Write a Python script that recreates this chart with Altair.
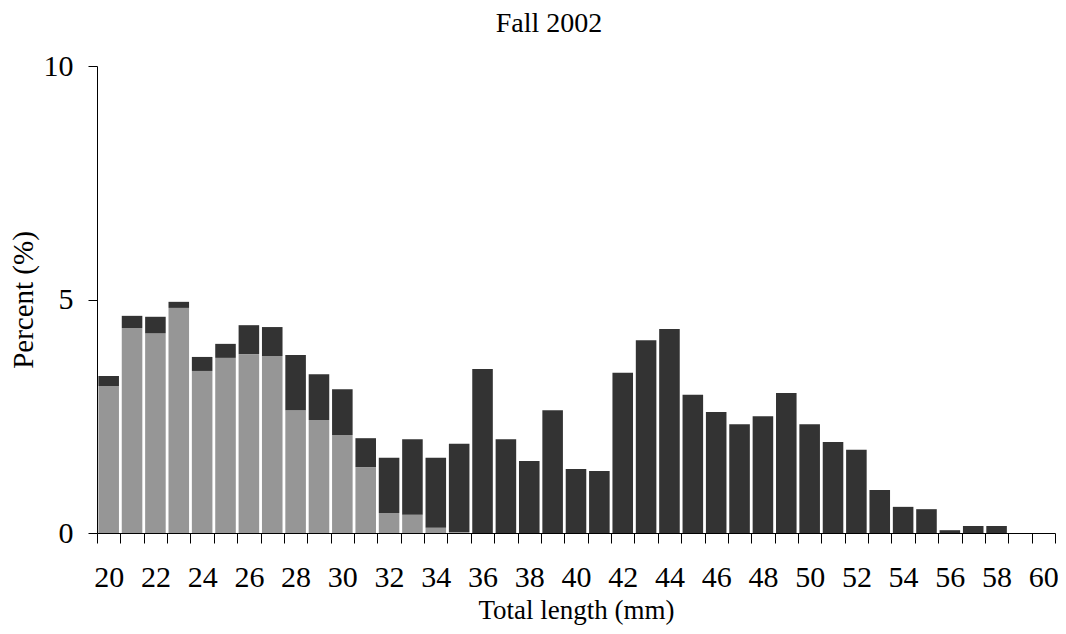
import altair as alt
import pandas as pd

# Total length classes (mm)
lengths = list(range(20, 61))
# light-gray portion (%)
light = [3.15, 4.39, 4.28, 4.82, 3.47, 3.75, 3.83, 3.79, 2.63, 2.42, 2.10, 1.41,
         0.43, 0.39, 0.11, 0.02] + [0.0] * 25
# total bar height (%)
total = [3.36, 4.65, 4.63, 4.95, 3.77, 4.05, 4.45, 4.41, 3.81, 3.40, 3.08, 2.03,
         1.61, 2.01, 1.61, 1.91, 3.51, 2.01, 1.54, 2.63, 1.37, 1.33, 3.43, 4.13,
         4.37, 2.96, 2.59, 2.33, 2.50, 3.00, 2.33, 1.95, 1.78, 0.92, 0.56, 0.51,
         0.06, 0.15, 0.15, 0.0, 0.0]
# axis tick positions: class boundaries and integer label positions
x_axis_values = [19.5 + i * 0.5 for i in range(83)]
y_ticks = [0, 5, 10]

df = pd.DataFrame({"length": lengths, "light": light, "total": total})

FONT = "Liberation Serif"
base = alt.Chart(df).transform_calculate(
    lo="datum.length - 0.44", hi="datum.length + 0.44", zero="0"
)

xscale = alt.Scale(domain=[19.5, 60.5], nice=False, zero=False)
yscale = alt.Scale(domain=[0, 10], nice=False)

xaxis = alt.Axis(
    values=x_axis_values,
    tickOpacity={"condition": {"test": "datum.value % 1 === 0", "value": 0}, "value": 1},
    labelExpr="datum.value % 2 === 0 ? format(datum.value, 'd') : ''",
    labelOverlap=False,
    labelFlush=False,
    tickSize=10,
    labelPadding=19,
    labelFontSize=30,
    labelFont=FONT,
    title="Total length (mm)",
    titleFont=FONT,
    titleFontSize=27,
    titleFontWeight="normal",
    titlePadding=5,
    grid=False,
    domainColor="black",
    tickColor="black",
    labelColor="black",
    titleColor="black",
)
yaxis = alt.Axis(
    values=y_ticks,
    tickSize=9,
    labelPadding=15,
    labelFontSize=30,
    labelFont=FONT,
    title="Percent (%)",
    titleFont=FONT,
    titleFontSize=29,
    titleFontWeight="normal",
    titlePadding=5,
    grid=False,
    domainColor="black",
    tickColor="black",
    labelColor="black",
    titleColor="black",
)

light_bars = base.mark_bar(color="#969696").encode(
    x=alt.X("lo:Q", scale=xscale, axis=xaxis),
    x2="hi:Q",
    y=alt.Y("light:Q", scale=yscale, axis=yaxis),
    y2="zero:Q",
)
dark_bars = base.mark_bar(color="#333333").encode(
    x=alt.X("lo:Q", scale=xscale, axis=xaxis),
    x2="hi:Q",
    y=alt.Y("total:Q", scale=yscale, axis=yaxis),
    y2="light:Q",
)

chart = alt.layer(light_bars, dark_bars).properties(
    width=958,
    height=467,
    title=alt.TitleParams("Fall 2002", font=FONT, fontSize=28, fontWeight="normal",
                          color="black", anchor="middle", dx=-27, offset=13),
    autosize=alt.AutoSizeParams(type="none"),
    padding={"left": 89, "top": 58, "right": 3, "bottom": 93},
).configure_view(stroke=None)

chart.save("out.html", embed_options={"renderer": "svg", "actions": False})
